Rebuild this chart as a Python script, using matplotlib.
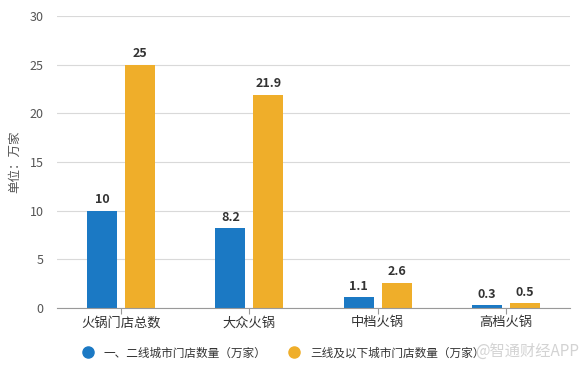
import numpy as np
import matplotlib
matplotlib.use("Agg")
import matplotlib.pyplot as plt
from matplotlib.lines import Line2D

plt.rcParams['font.family'] = ['Noto Sans CJK SC', 'DejaVu Sans']

categories = ['火锅门店总数', '大众火锅', '中档火锅', '高档火锅']
tier12 = [10, 8.2, 1.1, 0.3]
tier3 = [25, 21.9, 2.6, 0.5]
series_names = ['一、二线城市门店数量（万家）', '三线及以下城市门店数量（万家）']
blue = '#1b79c4'
orange = '#efae2a'

fig = plt.figure(figsize=(5.86, 3.69), dpi=100)
ax = fig.add_axes([57 / 586, 1 - 308 / 369, 513 / 586, 292 / 369])

x = np.arange(len(categories))
w = 0.234
off = 0.148
b1 = ax.bar(x - off, tier12, w, color=blue)
b2 = ax.bar(x + off, tier3, w, color=orange)

# value labels above bars
for bars, vals in ((b1, tier12), (b2, tier3)):
    for r, v in zip(bars, vals):
        ax.text(r.get_x() + r.get_width() / 2, v + 0.45, f'{v:g}',
                ha='center', va='bottom', fontsize=9, fontweight='bold', color='#333333')

ax.set_xlim(-0.5, 3.5)
ax.set_ylim(0, 30)
ax.set_yticks(range(0, 31, 5))
ax.set_xticks(x)
ax.set_xticklabels(categories)
ax.tick_params(axis='y', length=0, labelsize=9, labelcolor='#555555', pad=9.5)
ax.tick_params(axis='x', length=4, color='#999999', labelsize=9.5, labelcolor='#333333', pad=2)
ax.yaxis.grid(True, color='#d9d9d9', linewidth=0.8)
ax.set_axisbelow(True)
for s in ['top', 'right', 'left']:
    ax.spines[s].set_visible(False)
ax.spines['bottom'].set_color('#999999')
ax.set_ylabel('单位：万家', fontsize=9, color='#555555', labelpad=6)

handles = [Line2D([], [], marker='o', ls='', color=blue, markersize=8),
           Line2D([], [], marker='o', ls='', color=orange, markersize=8)]
fig.legend(handles, series_names, loc='center', bbox_to_anchor=(0.478, 1 - 353 / 369),
           ncol=2, frameon=False, fontsize=8.4, columnspacing=1.3, handletextpad=0.4,
           labelcolor='#333333')

# watermark
fig.text(0.988, 1 - 351 / 369, '@智通财经APP', ha='right', va='center',
         fontsize=11, color='#c8c8c8', alpha=0.8)

fig.savefig('out.png', dpi=100)
